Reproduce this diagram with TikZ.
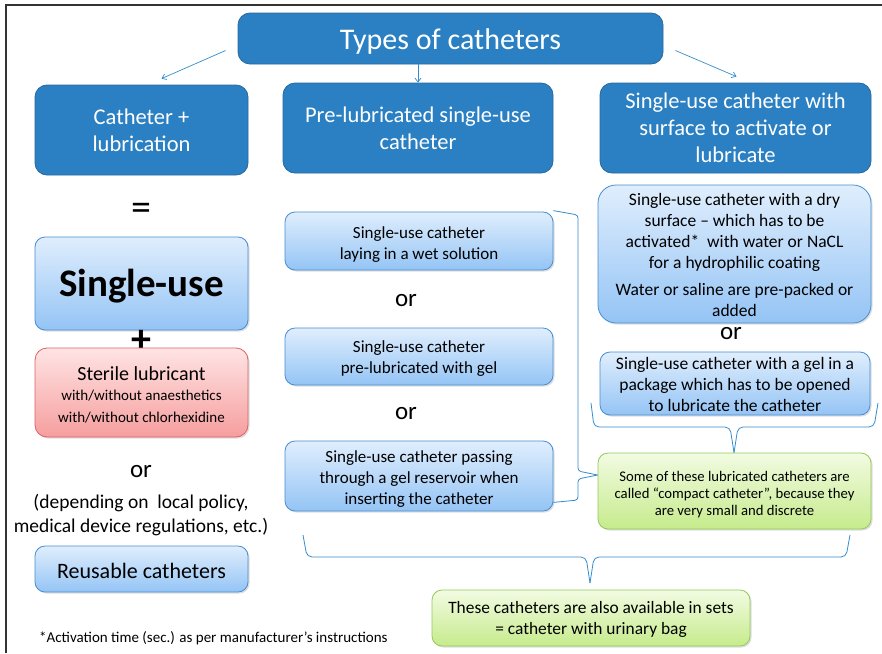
\documentclass[tikz,border=0pt]{standalone}
\usepackage{fontspec}
\setmainfont{Carlito}
\usetikzlibrary{arrows.meta,shadows}
\definecolor{hdrfill}{RGB}{42,128,194}
\definecolor{hdrborder}{RGB}{40,104,160}
\definecolor{lbtop}{RGB}{224,238,253}
\definecolor{lbbot}{RGB}{148,196,245}
\definecolor{lbborder}{RGB}{70,142,210}
\definecolor{rdtop}{RGB}{255,228,228}
\definecolor{rdbot}{RGB}{246,158,158}
\definecolor{rdborder}{RGB}{222,96,96}
\definecolor{grtop}{RGB}{242,251,226}
\definecolor{grbot}{RGB}{198,235,140}
\definecolor{grborder}{RGB}{148,200,90}
\definecolor{linkblue}{RGB}{52,140,205}
\newcommand\lowr[1]{\rule{0pt}{#1}}
\tikzset{
  hdr/.style={draw=hdrborder, fill=hdrfill, rounded corners=12pt, text=white,
    align=center, inner sep=0pt, line width=0.8pt, font=\fontsize{22.5}{27}\selectfont},
  shad/.style={drop shadow={shadow xshift=1.5pt, shadow yshift=-1.5pt, opacity=0.22, fill=black!60}},
  lbox/.style={draw=lbborder, top color=lbtop, bottom color=lbbot, rounded corners=10pt,
    align=center, inner sep=0pt, line width=0.8pt, shad, font=\fontsize{17}{21}\selectfont},
  rbox/.style={draw=rdborder, top color=rdtop, bottom color=rdbot, rounded corners=12pt,
    align=center, inner sep=0pt, line width=0.8pt, shad},
  gbox/.style={draw=grborder, top color=grtop, bottom color=grbot, rounded corners=10pt,
    align=center, inner sep=0pt, line width=0.8pt, shad},
  arr/.style={draw=linkblue, line width=0.7pt, -{Straight Barb[length=4pt,width=6pt]}},
  brc/.style={draw=linkblue, line width=0.8pt},
  plain/.style={inner sep=0pt, align=center},
  ortext/.style={plain, font=\fontsize{25}{25}\selectfont},
}
\begin{document}
\begin{tikzpicture}[x=1pt,y=-1pt]
\useasboundingbox (0,0) rectangle (882,653);
% frame
\draw[black!80, line width=1.5pt] (6,653) -- (6,5) -- (882,5);

% title
\node[hdr, minimum width=425pt, minimum height=51pt, font=\fontsize{30}{34}\selectfont] (title) at (450.5,38.5) {\lowr{27pt}Types of catheters};

% header boxes
\node[hdr, minimum width=213pt, minimum height=90pt] (hA) at (141.5,130) {Catheter +\\lubrication};
\node[hdr, minimum width=270pt, minimum height=90pt] (hB) at (418,128) {Pre-lubricated single-use\\catheter};
\node[hdr, minimum width=271pt, minimum height=90pt] (hC) at (735.5,128) {Single-use catheter with\\surface to activate or\\lubricate};

% arrows
\draw[arr] ([shift={(-12,12)}]title.west) -- ([shift={(20,-6)}]hA.north);
\draw[arr] ([xshift=-32.5pt]title.south) -- (hB.north);
\draw[arr] ([shift={(12,12)}]title.east) -- ([shift={(1,-6)}]hC.north);

% left column
\node[plain, font=\fontsize{40}{40}\selectfont] (eq) at (141,212) {=};
\node[lbox, minimum width=213pt, minimum height=93pt, font=\fontsize{39}{44}\selectfont\bfseries] (single) at (141.5,283.5) {\lowr{33pt}Single-use};
\node[plain, font=\fontsize{40}{40}\selectfont\bfseries] (plus) at (141,341) {+};
\node[rbox, minimum width=213pt, minimum height=89pt, font=\fontsize{15}{22}\selectfont] (sterile) at (141.5,392.5)
  {\lowr{18pt}{\fontsize{20}{22}\selectfont Sterile lubricant}\\[-2pt]
   with/without anaesthetics\\
   with/without chlorhexidine};
\node[ortext] (orL) at (141,472) {or};
\node[plain, font=\fontsize{19.5}{24}\selectfont] (dep) at (141,515) {(depending on\ \ local policy,\\medical device regulations, etc.)};
\node[lbox, minimum width=213pt, minimum height=46pt, font=\fontsize{22}{24}\selectfont] (reuse) at (141.5,569) {\lowr{19.5pt}Reusable catheters};
\node[plain, anchor=west, font=\fontsize{15}{16}\selectfont] (foot) at (39,638) {*Activation time (sec.) as per manufacturer’s instructions};

% middle column
\node[lbox, minimum width=268pt, minimum height=58pt] (m1) at (419,241) {\lowr{18pt}Single-use catheter\\laying in a wet solution};
\node[ortext] (orM1) at (406,301) {or};
\node[lbox, minimum width=268pt, minimum height=57pt] (m2) at (419,356.5) {\lowr{16pt}Single-use catheter\\pre-lubricated with gel};
\node[ortext] (orM2) at (406,414) {or};
\node[lbox, minimum width=268pt, minimum height=70pt] (m3) at (419,476) {\lowr{17pt}Single-use catheter passing\\through a gel reservoir when\\inserting the catheter};

% right column
\node[lbox, minimum width=273pt, minimum height=138pt, rounded corners=18pt, font=\fontsize{17.5}{21}\selectfont] (r1) at (734.5,254)
  {\lowr{14.5pt}Single-use catheter with a dry\\surface -- which has to be\\activated*\ \ with water or NaCL\\for a hydrophilic coating\\[6pt]Water or saline are pre-packed or\\added};
\node[ortext] (orR) at (731,334) {or};
\node[lbox, minimum width=270pt, minimum height=63pt, font=\fontsize{17.5}{21}\selectfont] (r2) at (735,383.5) {\lowr{14.5pt}Single-use catheter with a gel in a\\package which has to be opened\\to lubricate the catheter};

\node[gbox, minimum width=273pt, minimum height=76pt, font=\fontsize{14.7}{17}\selectfont] (g1) at (734.5,491)
  {\lowr{18pt}Some of these lubricated catheters are\\called “compact catheter”, because they\\are very small and discrete};
\node[gbox, minimum width=318pt, minimum height=56pt, font=\fontsize{17.4}{21}\selectfont] (g2) at (591,618)
  {\lowr{14.5pt}These catheters are also available in sets\\= catheter with urinary bag};

% braces
\draw[brc, rounded corners=3pt] ([yshift=1pt]m1.north east) -- (578,215) -- (578,471) -- (g1.west |- 0,475);
\draw[brc, rounded corners=3pt] (g1.west |- 0,475) -- (578,479) -- (578,500) -- ([yshift=9pt]m3.south east);

\draw[brc, rounded corners=5pt] (591,403) -- (594,427) -- (730,427) -- (g1.north -| 734,0);
\draw[brc, rounded corners=5pt] (g1.north -| 734,0) -- (738,427) -- (874,427) -- (878,403);

\draw[brc, rounded corners=5pt] (303,535) -- (307,557) -- (586,557) -- (590,583);
\draw[brc, rounded corners=5pt] (590,583) -- (594,557) -- (846,557) -- (850,535);
\end{tikzpicture}
\end{document}
